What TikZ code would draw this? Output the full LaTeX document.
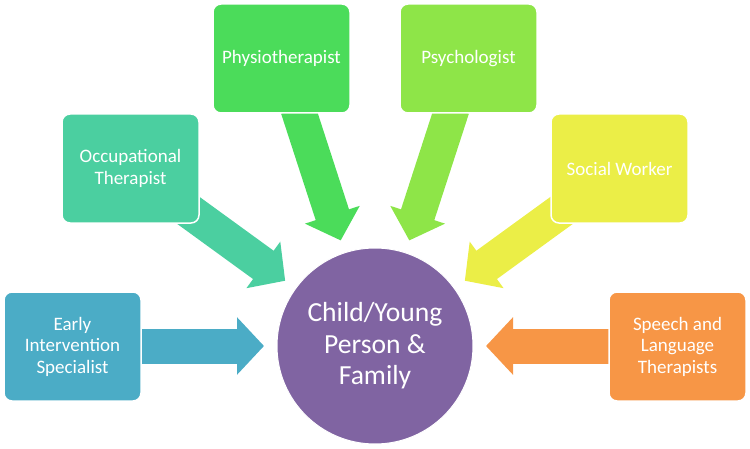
\documentclass[tikz,border=0pt]{standalone}
\usepackage{fontspec}
\setmainfont{Carlito}
\usetikzlibrary{arrows.meta}

\definecolor{eiscol}{HTML}{4BACC6}
\definecolor{otcol}{HTML}{4BCFA0}
\definecolor{ptcol}{HTML}{4BDC5A}
\definecolor{psycol}{HTML}{8EE548}
\definecolor{swcol}{HTML}{EBEE47}
\definecolor{sltcol}{HTML}{F79646}
\definecolor{famcol}{HTML}{8064A2}

\tikzset{
  member/.style={draw=white, line width=1.5pt, fill=#1, rounded corners=8pt,
    minimum width=137pt, minimum height=109pt, inner sep=2pt,
    text=white, align=center, font=\fontsize{19}{21.5}\selectfont},
  feed/.style={draw=#1, line width=35pt, -{Triangle[length=27pt,width=56pt]}}
}

\begin{document}
\begin{tikzpicture}[x=1pt,y=1pt]
\useasboundingbox (0,0) rectangle (750,448);

% Centre
\node[circle, fill=famcol, draw=white, line width=1pt, minimum size=196pt, text=white,
  align=center, font=\fontsize{27.6}{31.5}\selectfont] (family) at (375,102)
  {Child/Young\\Person \&\\Family};

% Arrow ends (tips 111 from centre, tails under the boxes)
\coordinate (eistip) at ([shift={(180:111)}]family.center);
\coordinate (eistail) at ([shift={(180:250)}]family.center);
\coordinate (ottip) at ([shift={(144:111)}]family.center);
\coordinate (ottail) at ([shift={(144:250)}]family.center);
\coordinate (pttip) at ([shift={(108:111)}]family.center);
\coordinate (pttail) at ([shift={(108:250)}]family.center);
\coordinate (psytip) at ([shift={(72:111)}]family.center);
\coordinate (psytail) at ([shift={(72:250)}]family.center);
\coordinate (swtip) at ([shift={(36:111)}]family.center);
\coordinate (swtail) at ([shift={(36:250)}]family.center);
\coordinate (slttip) at ([shift={(0:111)}]family.center);
\coordinate (slttail) at ([shift={(0:250)}]family.center);

% Arrows
\draw[feed=eiscol] (eistail) -- (eistip);
\draw[feed=otcol] (ottail) -- (ottip);
\draw[feed=ptcol] (pttail) -- (pttip);
\draw[feed=psycol] (psytail) -- (psytip);
\draw[feed=swcol] (swtail) -- (swtip);
\draw[feed=sltcol] (slttail) -- (slttip);

% Boxes
\node[member=eiscol] (early) at (72.5,101.5) {Early\\Intervention\\Specialist};
\node[member=otcol] (occupational) at (130.5,279.5) {Occupational\\Therapist};
\node[member=ptcol] (physio) at (281.5,389.5) {Physiotherapist};
\node[member=psycol] (psych) at (468.5,389.5) {Psychologist};
\node[member=swcol] (social) at (619.5,279.5) {Social Worker};
\node[member=sltcol] (speech) at (677.5,101.5) {Speech and\\Language\\Therapists};
\end{tikzpicture}
\end{document}
